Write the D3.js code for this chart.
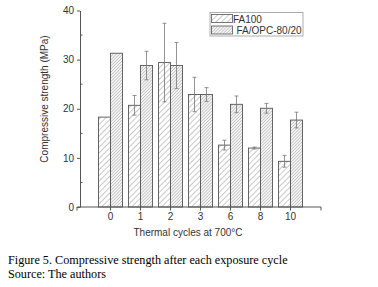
<!DOCTYPE html>
<html>
<head>
<meta charset="utf-8">
<script src="https://cdn.jsdelivr.net/npm/d3@7"></script>
<style>
  body { margin: 0; background: #fff; }
  svg { display: block; }
</style>
</head>
<body>
<svg id="chart"></svg>
<script>
const cycles = ["0", "1", "2", "3", "6", "8", "10"];
const seriesNames = ["FA100", "FA/OPC-80/20"];
const fa100 = [18.3, 20.7, 29.4, 22.9, 12.6, 12.0, 9.3];
const fa100Err = [0, 2.0, 8.0, 3.5, 1.0, 0.2, 1.2];
const faOpc = [31.3, 28.8, 28.8, 22.9, 20.9, 20.1, 17.7];
const faOpcErr = [0, 2.9, 4.7, 1.4, 1.7, 1.0, 1.6];
const yTicks = [0, 10, 20, 30, 40];
const yMinorTicks = [5, 15, 25, 35];

const width = 378;
const height = 287;
const margin = { top: 10.5, right: 57, bottom: 80, left: 80 };

const svg = d3.select("svg#chart").attr("width", width).attr("height", height);

const defs = svg.append("defs");
const wide = defs.append("pattern")
  .attr("id", "hatch-wide")
  .attr("patternUnits", "userSpaceOnUse")
  .attr("width", 4).attr("height", 4)
  .attr("patternTransform", "rotate(45)");
wide.append("rect").attr("width", 4).attr("height", 4).style("fill", "#fff");
wide.append("line")
  .attr("x1", 0).attr("y1", 0).attr("x2", 0).attr("y2", 4)
  .style("stroke", "#777").style("stroke-width", 0.8);

const dense = defs.append("pattern")
  .attr("id", "hatch-dense")
  .attr("patternUnits", "userSpaceOnUse")
  .attr("width", 2.2).attr("height", 2.2)
  .attr("patternTransform", "rotate(45)");
dense.append("rect").attr("width", 2.2).attr("height", 2.2).style("fill", "#f4f4f4");
dense.append("line")
  .attr("x1", 0).attr("y1", 0).attr("x2", 0).attr("y2", 2.2)
  .style("stroke", "#8a8a8a").style("stroke-width", 0.7);

const fills = ["url(#hatch-wide)", "url(#hatch-dense)"];

const x = d3.scaleBand(cycles, [margin.left, width - margin.right])
  .paddingInner(0.2)
  .paddingOuter(0.617);
const xSub = d3.scaleBand(seriesNames, [0, x.bandwidth()]);
const y = d3.scaleLinear([0, 40], [height - margin.bottom, margin.top]);

const rows = cycles.map((c, i) => ({
  cycle: c,
  values: [
    { name: seriesNames[0], value: fa100[i], err: fa100Err[i] },
    { name: seriesNames[1], value: faOpc[i], err: faOpcErr[i] }
  ]
}));

const groups = svg.append("g")
  .selectAll("g")
  .data(rows)
  .join("g")
  .attr("transform", d => `translate(${x(d.cycle)},0)`);

groups.selectAll("rect")
  .data(d => d.values)
  .join("rect")
  .attr("x", d => xSub(d.name))
  .attr("y", d => y(d.value))
  .attr("width", xSub.bandwidth())
  .attr("height", d => y(0) - y(d.value))
  .style("fill", (d, i) => fills[i])
  .style("stroke", "#555")
  .style("stroke-width", 0.9);

// error bars
const errs = groups.selectAll("g.err")
  .data(d => d.values.filter(v => v.err > 0))
  .join("g")
  .attr("class", "err")
  .style("stroke", "#777")
  .style("stroke-width", 0.8);
errs.append("line")
  .attr("x1", d => xSub(d.name) + xSub.bandwidth() / 2)
  .attr("x2", d => xSub(d.name) + xSub.bandwidth() / 2)
  .attr("y1", d => y(d.value + d.err))
  .attr("y2", d => y(d.value - d.err));
errs.selectAll("line.cap")
  .data(d => [d.value + d.err, d.value - d.err].map(v => ({ name: d.name, v })))
  .join("line")
  .attr("class", "cap")
  .attr("x1", d => xSub(d.name) + xSub.bandwidth() / 2 - 2)
  .attr("x2", d => xSub(d.name) + xSub.bandwidth() / 2 + 2)
  .attr("y1", d => y(d.v))
  .attr("y2", d => y(d.v));

// axes
const font = "'Liberation Sans', Arial, sans-serif";

const yAxis = svg.append("g")
  .attr("transform", `translate(${margin.left},0)`)
  .call(d3.axisLeft(y).tickValues(yTicks).tickSize(3).tickPadding(3).tickSizeOuter(0));
yAxis.append("g")
  .selectAll("line")
  .data(yMinorTicks)
  .join("line")
  .attr("x1", 0).attr("x2", 2.5)
  .attr("y1", d => y(d)).attr("y2", d => y(d))
  .style("stroke", "#555");

const xAxis = svg.append("g")
  .attr("transform", `translate(0,${height - margin.bottom})`)
  .call(d3.axisBottom(x).tickSize(3.5).tickPadding(2).tickSizeOuter(3.5));

[yAxis, xAxis].forEach(g => {
  g.selectAll(".domain, line").style("stroke", "#555").style("stroke-width", 1);
  g.selectAll("text")
    .style("font-family", font)
    .style("font-size", "10px")
    .style("fill", "#333");
});
xAxis.select(".domain").attr("d", `M${margin.left - 3},3.5V0H${width - margin.right}V3.5`);

svg.append("text")
  .attr("transform", `translate(48,99) rotate(-90)`)
  .attr("text-anchor", "middle")
  .style("font-family", font)
  .style("font-size", "10px")
  .style("fill", "#333")
  .text("Compressive strength (MPa)");

svg.append("text")
  .attr("x", 188)
  .attr("y", 236)
  .attr("text-anchor", "middle")
  .style("font-family", font)
  .style("font-size", "10px")
  .style("fill", "#333")
  .text("Thermal cycles at 700°C");

// legend
const legend = svg.append("g").attr("transform", "translate(210,12.5)");
legend.append("rect")
  .attr("width", 93).attr("height", 23.5)
  .style("fill", "#fff").style("stroke", "#999").style("stroke-width", 0.8);
const items = legend.selectAll("g.item")
  .data(seriesNames)
  .join("g")
  .attr("class", "item")
  .attr("transform", (d, i) => `translate(1.5,${2 + i * 11.5})`);
items.append("rect")
  .attr("width", 21).attr("height", 8)
  .style("fill", (d, i) => fills[i])
  .style("stroke", "#555").style("stroke-width", 0.8);
items.append("text")
  .attr("x", (d, i) => (i === 0 ? 21.5 : 25))
  .attr("y", 8)
  .style("font-family", font)
  .style("font-size", "10px")
  .style("fill", "#333")
  .text(d => d);

// caption
const serif = "'Liberation Serif', 'Times New Roman', serif";
svg.append("text")
  .attr("x", 8).attr("y", 264)
  .style("font-family", serif).style("font-size", "12.2px").style("fill", "#000")
  .text("Figure 5. Compressive strength after each exposure cycle");
svg.append("text")
  .attr("x", 8).attr("y", 277.5)
  .style("font-family", serif).style("font-size", "12.2px").style("fill", "#000")
  .text("Source: The authors");
</script>
</body>
</html>
